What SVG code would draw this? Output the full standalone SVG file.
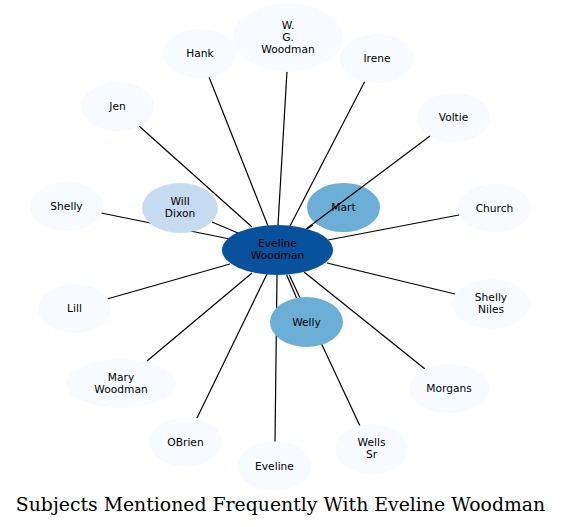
<svg xmlns="http://www.w3.org/2000/svg" width="561" height="527" viewBox="0 0 561 527">
<style>
.e{stroke:#000;stroke-width:1.2;fill:none}
.l{fill:#f7fbff}
.m{fill:#c6dbef}
.h{fill:#6baed6}
.c{fill:#08519c}
text{font-family:"DejaVu Sans",sans-serif;font-size:10.67px;text-anchor:middle;fill:#000}
.t{font-family:"DejaVu Serif",serif;font-size:18.85px}
</style>
<rect width="561" height="527" fill="#fff"/>
<g id="edges">
<line class="e" x1="209" y1="77" x2="268" y2="226"/>
<line class="e" x1="287" y1="71" x2="278" y2="225"/>
<line class="e" x1="365" y1="81" x2="290" y2="226"/>
<line class="e" x1="139" y1="126" x2="252" y2="227"/>
<line class="e" x1="101" y1="213" x2="230" y2="239"/>
<line class="e" x1="212" y1="222" x2="238" y2="233"/>
<line class="e" x1="313" y1="225" x2="307" y2="229"/>
<line class="e" x1="459" y1="215" x2="328" y2="240"/>
<line class="e" x1="107" y1="299" x2="230" y2="264"/>
<line class="e" x1="147" y1="361" x2="252" y2="273"/>
<line class="e" x1="197" y1="418" x2="267" y2="274"/>
<line class="e" x1="275" y1="442" x2="277" y2="275"/>
<line class="e" x1="286.7" y1="275" x2="296.7" y2="298.3"/>
<line class="e" x1="289.3" y1="275" x2="360" y2="426"/>
<line class="e" x1="304" y1="272" x2="425" y2="369"/>
<line class="e" x1="327" y1="263" x2="455" y2="294"/>
</g>
<g id="n-hank"><ellipse class="l" cx="200" cy="53.5" rx="37" ry="24.5"/><text x="200" y="57">Hank</text></g>
<g id="n-wgwoodman"><ellipse class="l" cx="288" cy="37.5" rx="55" ry="34.5"/><text x="288" y="28.5">W.</text><text x="288" y="40.5">G.</text><text x="288" y="52.5">Woodman</text></g>
<g id="n-irene"><ellipse class="l" cx="377" cy="58.5" rx="37" ry="24.5"/><text x="377" y="62">Irene</text></g>
<g id="n-jen"><ellipse class="l" cx="117.5" cy="106.5" rx="36.5" ry="24.5"/><text x="117.5" y="110">Jen</text></g>
<g id="n-voltie"><ellipse class="l" cx="453.5" cy="117.5" rx="36.5" ry="24.5"/><text x="453.5" y="121">Voltie</text></g>
<g id="n-shelly"><ellipse class="l" cx="66.5" cy="206.5" rx="36.5" ry="24.5"/><text x="66.5" y="210">Shelly</text></g>
<g id="n-church"><ellipse class="l" cx="494.5" cy="208" rx="36.5" ry="24.5"/><text x="494.5" y="211.5">Church</text></g>
<g id="n-willdixon"><ellipse class="m" cx="180" cy="208" rx="38" ry="25"/><text x="180" y="205">Will</text><text x="180" y="217">Dixon</text></g>
<g id="n-mart"><ellipse class="h" cx="343.5" cy="207.5" rx="36.5" ry="24.5"/><text x="343.5" y="211">Mart</text></g>
<g id="edges-over"><line class="e" x1="430" y1="136" x2="306" y2="229"/></g>
<g id="n-eveline-woodman"><ellipse class="c" cx="277.5" cy="250" rx="55.5" ry="25"/><text x="277.5" y="247">Eveline</text><text x="277.5" y="259">Woodman</text></g>
<g id="n-lill"><ellipse class="l" cx="74.5" cy="308.5" rx="36.5" ry="24.5"/><text x="74.5" y="312">Lill</text></g>
<g id="n-shellyniles"><ellipse class="l" cx="491" cy="304" rx="39" ry="25"/><text x="491" y="301">Shelly</text><text x="491" y="313">Niles</text></g>
<g id="n-welly"><ellipse class="h" cx="306.5" cy="322" rx="36.5" ry="25"/><text x="306.5" y="325.5">Welly</text></g>
<g id="n-marywoodman"><ellipse class="l" cx="121" cy="383.5" rx="55" ry="24.5"/><text x="121" y="380.5">Mary</text><text x="121" y="392.5">Woodman</text></g>
<g id="n-morgans"><ellipse class="l" cx="449" cy="388.5" rx="40" ry="24.5"/><text x="449" y="392">Morgans</text></g>
<g id="n-obrien"><ellipse class="l" cx="185.5" cy="442" rx="36.5" ry="24.5"/><text x="185.5" y="445.5">OBrien</text></g>
<g id="n-wellssr"><ellipse class="l" cx="371.5" cy="449" rx="36.5" ry="25"/><text x="371.5" y="446">Wells</text><text x="371.5" y="458">Sr</text></g>
<g id="n-eveline"><ellipse class="l" cx="274.5" cy="466" rx="37" ry="24.5"/><text x="274.5" y="469.5">Eveline</text></g>
<text class="t" x="280.5" y="511">Subjects Mentioned Frequently With Eveline Woodman</text>
</svg>
